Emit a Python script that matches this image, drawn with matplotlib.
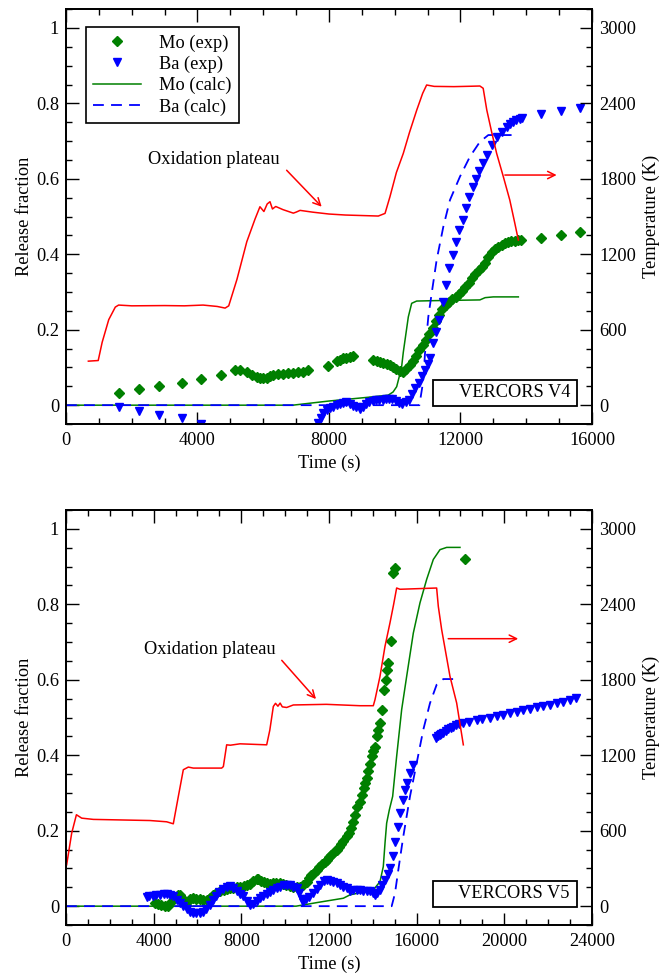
"""
VERCORS V4 / V5: Mo and Ba release fractions with furnace temperature.
"""

import matplotlib
import matplotlib.pyplot as plt
from matplotlib.patches import Rectangle
from matplotlib.ticker import MultipleLocator, FuncFormatter

matplotlib.use("Agg")

plt.rcParams['font.family'] = ['Liberation Serif', 'DejaVu Serif']
plt.rcParams['font.size'] = 13.2

# ---------------- VERCORS V4 ----------------
v4_temp_t = [680, 980, 1100, 1300, 1500, 1600, 2000, 3000, 3600, 4170, 4600, 4840, 4950,
             5200, 5500, 5750, 5900, 6020, 6120, 6205, 6280, 6380, 6600, 6915, 7000, 7120,
             7500, 8000, 8500, 9000, 9500, 9705, 9855, 10050, 10260, 10450, 10670, 10850,
             10970, 11200, 11800, 12300, 12590, 12690, 12800, 12950, 13100, 13300, 13500,
             13650, 13760]
v4_temp_k = [350, 355, 500, 680, 780, 796, 790, 792, 790, 796, 785, 772, 790,
             1000, 1300, 1480, 1578, 1540, 1600, 1618, 1560, 1580, 1555, 1527, 1535, 1549,
             1535, 1520, 1512, 1508, 1504, 1525, 1658, 1850, 2002, 2170, 2347, 2480,
             2546, 2535, 2533, 2536, 2538, 2520, 2347, 2170, 2002, 1820, 1631,
             1450, 1313]

v4_mo_exp_t = [1620, 2220, 2820, 3520, 4110, 4700,
               5150, 5300, 5500, 5650, 5800, 5900, 6000, 6100, 6200, 6300, 6450, 6600, 6750,
               6900, 7050, 7200, 7350,
               7980, 8230, 8330, 8430, 8530, 8630, 8730,
               9350, 9450, 9550, 9650, 9750, 9850, 9950, 10050, 10150, 10250, 10350, 10450,
               10550, 10650, 10750, 10850, 10950, 11050, 11150, 11250, 11350, 11450, 11550,
               11650, 11750, 11850, 11950, 12050, 12150, 12250, 12350, 12450, 12550, 12650,
               12750, 12850, 12950, 13050, 13150, 13250, 13350, 13450, 13550, 13650, 13750,
               13830, 14440, 15050, 15650]
v4_mo_exp = [0.033, 0.042, 0.050, 0.059, 0.069, 0.080,
             0.092, 0.092, 0.087, 0.080, 0.075, 0.072, 0.071, 0.073, 0.077, 0.080, 0.082,
             0.083, 0.084, 0.086, 0.087, 0.089, 0.092,
             0.104, 0.117, 0.121, 0.124, 0.126, 0.128, 0.130,
             0.119, 0.117, 0.114, 0.112, 0.109, 0.106, 0.102, 0.097, 0.091, 0.089, 0.095,
             0.106, 0.117, 0.130, 0.145, 0.160, 0.172, 0.188, 0.205, 0.222, 0.240, 0.255,
             0.266, 0.273, 0.281, 0.288, 0.295, 0.303, 0.313, 0.325, 0.337, 0.347, 0.357,
             0.367, 0.377, 0.392, 0.405, 0.414, 0.420, 0.425, 0.429, 0.432, 0.434, 0.436,
             0.437, 0.438, 0.444, 0.451, 0.460]

v4_ba_exp_t = [1620, 2220, 2820, 3520, 4110,
               7680, 7750, 7830, 7930, 8030, 8130, 8230, 8330, 8430, 8530, 8630, 8730, 8830,
               8930, 9030, 9130, 9230, 9330, 9430, 9530, 9630, 9730, 9830, 9930, 10030,
               10130, 10230, 10330, 10430, 10530, 10630, 10730, 10830, 10920, 11000, 11070,
               11170, 11260, 11360, 11460, 11560, 11660, 11760, 11860, 11960, 12070, 12170,
               12270, 12370, 12470, 12570, 12670, 12800, 12950, 13100, 13250, 13400, 13500,
               13600, 13700, 13800, 13860, 14440, 15050, 15650]
v4_ba_exp = [-0.006, -0.015, -0.025, -0.035, -0.049,
             -0.047, -0.035, -0.022, -0.013, -0.008, -0.004, 0.000, 0.004, 0.006, 0.008,
             0.004, -0.002, -0.006, -0.009, -0.004, 0.003, 0.009, 0.012, 0.013, 0.014,
             0.015, 0.016, 0.017, 0.017, 0.012, 0.005, 0.004, 0.008, 0.015, 0.030, 0.045,
             0.060, 0.077, 0.093, 0.110, 0.124, 0.164, 0.195, 0.225, 0.274, 0.318, 0.363,
             0.398, 0.433, 0.464, 0.491, 0.522, 0.553, 0.577, 0.599, 0.622, 0.641, 0.663,
             0.690, 0.712, 0.725, 0.738, 0.745, 0.751, 0.755, 0.759, 0.760, 0.772, 0.780,
             0.787]

v4_mo_calc_t = [0, 6900, 7500, 8000, 8600, 9200, 9800, 9950, 10059, 10150, 10210, 10260,
                10312, 10413, 10515, 10667, 11173, 12590, 12750, 12998, 13760]
v4_mo_calc = [0, 0, 0.006, 0.011, 0.016, 0.021, 0.0265, 0.035, 0.049, 0.080, 0.102, 0.140,
              0.172, 0.234, 0.270, 0.276, 0.277, 0.279, 0.285, 0.287, 0.287]

v4_ba_calc_t = [0, 10750, 10870, 10920, 11021, 11123, 11275, 11478, 11681, 11985, 12289,
                12590, 12846, 13760]
v4_ba_calc = [0, 0, 0.066, 0.137, 0.234, 0.296, 0.385, 0.473, 0.544, 0.606, 0.659,
              0.698, 0.716, 0.716]

# ---------------- VERCORS V5 ----------------
v5_temp_t = [30, 260, 475, 716, 1247, 3833, 4593, 4896, 5125, 5353, 5581, 5810, 7103, 7180,
             7331, 7500, 7939, 9157, 9300, 9460, 9560, 9670, 9770, 9870, 10069, 10373,
             11879, 13414, 14022, 14099, 14327, 14555, 14783, 14950, 15087, 15239, 16912,
             16988, 17141, 17521, 17825, 18130]
v5_temp_k = [329, 581, 727, 700, 690, 681, 671, 655, 872, 1085, 1106, 1098, 1098, 1110,
             1283, 1280, 1291, 1283, 1400, 1588, 1613, 1590, 1615, 1585, 1580, 1600,
             1605, 1594, 1594, 1642, 1827, 2066, 2253, 2400, 2530, 2520, 2530,
             2384, 2199, 1827, 1616, 1283]

v5_mo_exp_t = [4050, 4200, 4350, 4500, 4650, 4800, 4950, 5100, 5200, 5300, 5400, 5500, 5650,
               5800, 5950, 6100, 6250, 6420, 6550, 6700, 6850, 7030, 7200, 7350, 7500, 7640,
               7800, 7950, 8100, 8250, 8400, 8550, 8700, 8780, 8900, 9030, 9160, 9300, 9450,
               9600, 9770, 9900, 10050, 10200, 10370, 10520, 10680, 10830, 10980, 11100,
               11200, 11300, 11440, 11550, 11700, 11800, 11900, 12000, 12100, 12250, 12350,
               12450, 12550, 12650, 12800, 12900, 13000, 13110, 13200, 13300, 13414, 13500,
               13580, 13642, 13720, 13794, 13870, 13946, 14020, 14099, 14175, 14250, 14327,
               14433, 14524, 14580, 14631, 14707, 14814, 14935, 15011, 18205]
v5_mo_exp = [0.009, 0.005, 0.002, 0.000, 0.001, 0.012, 0.025, 0.030, 0.030, 0.022, 0.015,
             0.012, 0.018, 0.021, 0.020, 0.018, 0.017, 0.017, 0.022, 0.030, 0.035, 0.039,
             0.043, 0.046, 0.047, 0.048, 0.050, 0.052, 0.054, 0.056, 0.060, 0.066, 0.071,
             0.072, 0.068, 0.064, 0.061, 0.060, 0.061, 0.062, 0.061, 0.058, 0.055, 0.053,
             0.052, 0.052, 0.052, 0.057, 0.065, 0.074, 0.082, 0.088, 0.096, 0.104, 0.111,
             0.117, 0.123, 0.130, 0.135, 0.143, 0.149, 0.157, 0.165, 0.172, 0.185, 0.195,
             0.208, 0.222, 0.242, 0.262, 0.277, 0.295, 0.312, 0.326, 0.340, 0.357, 0.377,
             0.397, 0.410, 0.423, 0.450, 0.468, 0.485, 0.521, 0.572, 0.600, 0.627, 0.645,
             0.702, 0.883, 0.896, 0.920]

v5_ba_exp_t = [3681, 3800, 3950, 4100, 4289, 4450, 4600, 4745, 4900, 5050, 5201, 5350, 5500,
               5650, 5810, 5950, 6100, 6266, 6400, 6550, 6722, 6850, 7000, 7150, 7331, 7480,
               7636, 7800, 7950, 8091, 8250, 8396, 8550, 8700, 8852, 9000, 9150, 9300, 9461,
               9620, 9780, 9930, 10069, 10200, 10350, 10525, 10650, 10750, 10829, 10950,
               11100, 11286, 11450, 11600, 11750, 11894, 12050, 12200, 12351, 12500, 12650,
               12807, 12958, 13110, 13260, 13414, 13560, 13720, 13870, 14000, 14099, 14200,
               14327, 14440, 14555, 14680, 14783, 14905, 15011, 15133, 15239, 15391, 15468,
               15574, 15696, 15848,
               16882, 16960, 17050, 17130, 17216, 17330, 17450, 17560, 17673, 17800, 17950,
               18129, 18400, 18738, 19000, 19346, 19650, 19954, 20250, 20563, 20850, 21171,
               21480, 21779, 22080, 22388, 22700, 22996, 23270]
v5_ba_exp = [0.024, 0.026, 0.028, 0.029, 0.030, 0.031, 0.031, 0.030, 0.026, 0.017, 0.008,
             0.000, -0.008, -0.015, -0.019, -0.019, -0.018, -0.015, -0.007, 0.004, 0.017,
             0.028, 0.038, 0.046, 0.052, 0.053, 0.048, 0.040, 0.033, 0.026, 0.013, 0.003,
             0.006, 0.014, 0.021, 0.026, 0.032, 0.038, 0.043, 0.048, 0.052, 0.055, 0.056,
             0.055, 0.052, 0.048, 0.035, 0.020, 0.012, 0.018, 0.025, 0.034, 0.046, 0.057,
             0.066, 0.070, 0.068, 0.064, 0.061, 0.056, 0.052, 0.048, 0.041, 0.043, 0.044,
             0.043, 0.041, 0.040, 0.039, 0.034, 0.030, 0.036, 0.043, 0.055, 0.070, 0.085,
             0.101, 0.132, 0.171, 0.211, 0.247, 0.282, 0.308, 0.326, 0.353, 0.375,
             0.446, 0.450, 0.453, 0.456, 0.459, 0.465, 0.469, 0.472, 0.475, 0.479, 0.482,
             0.485, 0.489, 0.494, 0.497, 0.500, 0.503, 0.507, 0.511, 0.516, 0.519, 0.523,
             0.527, 0.531, 0.534, 0.538, 0.542, 0.547, 0.552]

v5_mo_calc_t = [0, 10500, 11500, 12653, 12958, 14022, 14327, 14478, 14560, 14631, 14752,
                14905, 15087, 15316, 15544, 15848, 16152, 16456, 16760, 17065, 17369, 17977]
v5_mo_calc = [0, 0, 0.010, 0.021, 0.030, 0.043, 0.065, 0.105, 0.170, 0.220, 0.255,
              0.291, 0.397, 0.521, 0.609, 0.724, 0.804, 0.866, 0.919, 0.945, 0.951, 0.951]

v5_ba_calc_t = [0, 14860, 15011, 15163, 15391, 15696, 16000, 16304, 16608, 16912, 17216,
                17825]
v5_ba_calc = [0, 0, 0.034, 0.096, 0.185, 0.291, 0.379, 0.468, 0.538, 0.587, 0.602, 0.602]

GREEN = '#008000'
BLUE = '#0000ff'
RED = '#ff0000'


def draw_panel(ax, xmax, temp_t, temp_k, mo_t, mo, ba_t, ba, moc_t, moc, bac_t, bac,
               label, plateau_xy, plateau_text_xy, arrow_from, arrow_to, legend=False):
    ax.plot(mo_t, mo, 'D', color=GREEN, ms=5, mec=GREEN, label='Mo (exp)', zorder=3)
    ax.plot(ba_t, ba, 'v', color=BLUE, ms=6, mec=BLUE, label='Ba (exp)', zorder=3)
    ax.plot(moc_t, moc, '-', color=GREEN, lw=1.1, label='Mo (calc)', zorder=2)
    ax.plot(bac_t, bac, '--', color=BLUE, lw=1.3, dashes=(6, 4), label='Ba (calc)', zorder=2)

    ax.set_xlim(0, xmax)
    ax.set_ylim(-0.05, 1.05)
    ax.xaxis.set_major_locator(MultipleLocator(4000))
    ax.xaxis.set_minor_locator(MultipleLocator(1000))
    ax.yaxis.set_major_locator(MultipleLocator(0.2))
    ax.yaxis.set_minor_locator(MultipleLocator(0.05))
    ax.yaxis.set_major_formatter(FuncFormatter(lambda v, p: f'{v:g}'))
    ax.tick_params(which='both', direction='in', top=True, right=False, width=1)
    ax.tick_params(which='major', length=9)
    ax.tick_params(which='minor', length=4.5)
    ax.tick_params(axis='x', which='major', pad=6)
    ax.tick_params(axis='y', which='major', pad=5)
    ax.set_xlabel('Time (s)', labelpad=4)
    ax.set_ylabel('Release fraction', labelpad=2)

    ax2 = ax.twinx()
    ax2.plot(temp_t, temp_k, '-', color=RED, lw=1.1)
    ax2.set_ylim(-150, 3150)
    ax2.yaxis.set_major_locator(MultipleLocator(600))
    ax2.yaxis.set_minor_locator(MultipleLocator(150))
    ax2.tick_params(which='both', direction='in', width=1)
    ax2.tick_params(which='major', length=9, pad=5)
    ax2.tick_params(which='minor', length=4.5)
    ax2.set_ylabel('Temperature (K)', labelpad=5)

    for a in (ax, ax2):
        for s in a.spines.values():
            s.set_linewidth(1.3)

    # annotations
    ax2.annotate('Oxidation plateau', xy=plateau_xy, xytext=plateau_text_xy,
                 ha='right', va='center',
                 arrowprops=dict(arrowstyle='->', color=RED, lw=1.1,
                                 relpos=(1.0, 0.3), shrinkA=4, shrinkB=0))
    ax2.annotate('', xy=arrow_to, xytext=arrow_from,
                 arrowprops=dict(arrowstyle='->', color=RED, lw=1.1,
                                 shrinkA=0, shrinkB=0))

    ax2.add_patch(Rectangle((0.698, 0.044), 0.273, 0.063, transform=ax.transAxes,
                            fill=False, lw=1.3, ec='black', zorder=5))
    ax2.text(0.958, 0.0755, label, transform=ax.transAxes, ha='right', va='center',
             zorder=6)

    if legend:
        ax.legend(loc='upper left', bbox_to_anchor=(0.038, 0.957), borderaxespad=0,
                  frameon=True, fancybox=False, edgecolor='black', framealpha=1,
                  handlelength=2.6, handletextpad=1.0, labelspacing=0.22,
                  borderpad=0.4, numpoints=1)
        ax.get_legend().get_frame().set_linewidth(1.2)
    return ax2


fig = plt.figure(figsize=(6.68, 9.73), dpi=100)
ax_top = fig.add_axes([0.0988, 0.5642, 0.7874, 0.4265])
ax_bot = fig.add_axes([0.0988, 0.0493, 0.7874, 0.4265])

draw_panel(ax_top, 16000, v4_temp_t, v4_temp_k, v4_mo_exp_t, v4_mo_exp, v4_ba_exp_t,
           v4_ba_exp, v4_mo_calc_t, v4_mo_calc, v4_ba_calc_t, v4_ba_calc, 'VERCORS V4',
           plateau_xy=(7778, 1578), plateau_text_xy=(6510, 1950),
           arrow_from=(13350, 1830), arrow_to=(14925, 1830), legend=True)

draw_panel(ax_bot, 24000, v5_temp_t, v5_temp_k, v5_mo_exp_t, v5_mo_exp, v5_ba_exp_t,
           v5_ba_exp, v5_mo_calc_t, v5_mo_calc, v5_ba_calc_t, v5_ba_calc, 'VERCORS V5',
           plateau_xy=(11407, 1647), plateau_text_xy=(9550, 2040),
           arrow_from=(17440, 2127), arrow_to=(20634, 2127))

plt.savefig('out.png', dpi=100)
plt.close()
